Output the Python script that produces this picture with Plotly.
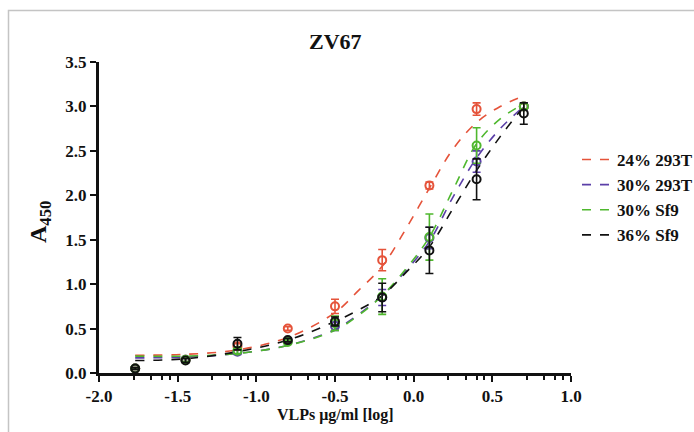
import plotly.graph_objects as go

# ---- data ----
series_names = ["24% 293T", "30% 293T", "30% Sf9", "36% Sf9"]
series_colors = ["#e5533a", "#5b3fa8", "#4fb82e", "#111111"]

x_points = [-1.77, -1.45, -1.12, -0.8, -0.5, -0.2, 0.1, 0.4, 0.7]
red_pts = [0.05, 0.15, 0.30, 0.50, 0.75, 1.27, 2.11, 2.97, 3.00]
red_err = [0.01, 0.02, 0.03, 0.02, 0.08, 0.12, 0.04, 0.07, 0.03]
purple_pts = [0.05, 0.15, 0.24, 0.36, 0.53, 0.85, 1.52, 2.38, 3.00]
purple_err = [0.01, 0.02, 0.03, 0.02, 0.05, 0.09, 0.12, 0.12, 0.04]
green_pts = [0.05, 0.15, 0.25, 0.35, 0.56, 0.86, 1.53, 2.56, 3.00]
green_err = [0.01, 0.02, 0.03, 0.02, 0.08, 0.20, 0.26, 0.20, 0.03]
black_pts = [0.05, 0.14, 0.33, 0.37, 0.58, 0.85, 1.38, 2.18, 2.92]
black_err = [0.01, 0.02, 0.07, 0.02, 0.05, 0.16, 0.26, 0.23, 0.12]

x_curve = [-1.77, -1.45, -1.12, -0.8, -0.5, -0.35, -0.2, -0.05, 0.1, 0.25, 0.4, 0.55, 0.7]
red_curve = [0.20, 0.21, 0.26, 0.40, 0.68, 0.93, 1.20, 1.62, 2.08, 2.52, 2.82, 3.00, 3.12]
purple_curve = [0.17, 0.18, 0.22, 0.31, 0.49, 0.66, 0.87, 1.15, 1.48, 1.98, 2.42, 2.75, 3.00]
green_curve = [0.19, 0.19, 0.22, 0.31, 0.48, 0.65, 0.87, 1.17, 1.53, 2.06, 2.58, 2.86, 3.03]
black_curve = [0.14, 0.16, 0.24, 0.37, 0.58, 0.71, 0.87, 1.13, 1.42, 1.85, 2.28, 2.66, 3.00]

x_tick_vals = [-2.0, -1.5, -1.0, -0.5, 0.0, 0.5, 1.0]
x_tick_text = ["-2.0", "-1.5", "-1.0", "-0.5", "0.0", "0.5", "1.0"]
x_minor_offsets = [0.22, 0.33, 0.40, 0.45]
y_tick_vals = [0.0, 0.5, 1.0, 1.5, 2.0, 2.5, 3.0, 3.5]
y_tick_text = ["0.0", "0.5", "1.0", "1.5", "2.0", "2.5", "3.0", "3.5"]

all_pts = [red_pts, purple_pts, green_pts, black_pts]
all_err = [red_err, purple_err, green_err, black_err]
all_curves = [red_curve, purple_curve, green_curve, black_curve]

FONT = "Liberation Serif"

fig = go.Figure()

for name, color, curve in zip(series_names, series_colors, all_curves):
    fig.add_trace(go.Scatter(
        x=x_curve, y=curve, mode="lines", name=name,
        line=dict(color=color, width=1.6, dash="dash", shape="spline", smoothing=1.0),
        showlegend=True,
    ))

for name, color, pts, err in zip(series_names, series_colors, all_pts, all_err):
    fig.add_trace(go.Scatter(
        x=x_points, y=pts, mode="markers", name=name,
        marker=dict(symbol="circle-open", size=8, color=color, line=dict(width=2, color=color)),
        error_y=dict(type="data", array=err, color=color, thickness=1.6, width=4),
        showlegend=False,
    ))

minor_vals = []
m = -2.0
while m < 1.0 - 1e-9:
    for off in x_minor_offsets:
        minor_vals.append(round(m + off, 3))
    m += 0.5

L, R, T, B = 99, 123, 62, 59
W, H = 694, 432
pw, ph = W - L - R, H - T - B

def px_x(px):
    return (px - L) / pw

def px_y(py):
    return (H - B - py) / ph

fig.update_layout(
    width=W, height=H,
    margin=dict(l=L, r=R, t=T, b=B, pad=0, autoexpand=False),
    paper_bgcolor="white", plot_bgcolor="white",
    font=dict(family=FONT, size=14, color="#111111"),
    showlegend=True,
    legend=dict(
        x=px_x(577), y=px_y(142), xanchor="left", yanchor="top",
        font=dict(family=FONT, size=17, color="#111111", weight="bold"),
        bgcolor="rgba(0,0,0,0)", itemwidth=30, tracegroupgap=0,
    ),
    xaxis=dict(
        range=[-2.0, 1.0], showgrid=False, zeroline=False, automargin=False,
        showline=True, linecolor="#111111", linewidth=3,
        ticks="outside", ticklen=6, tickwidth=2, tickcolor="#111111",
        tickmode="array", tickvals=x_tick_vals, ticktext=x_tick_text,
        tickfont=dict(family=FONT, size=17, color="#111111", weight="bold"),
        minor=dict(tickmode="array", tickvals=minor_vals, ticks="outside",
                   ticklen=4, tickwidth=2, tickcolor="#111111", showgrid=False),
    ),
    yaxis=dict(
        range=[0.0, 3.5], showgrid=False, zeroline=False, automargin=False,
        showline=True, linecolor="#111111", linewidth=3,
        ticks="outside", ticklen=6, tickwidth=2, tickcolor="#111111",
        tickmode="array", tickvals=y_tick_vals, ticktext=y_tick_text,
        tickfont=dict(family=FONT, size=17, color="#111111", weight="bold"),
    ),
    shapes=[dict(
        type="rect", xref="paper", yref="paper",
        x0=px_x(8.5), x1=px_x(720), y0=px_y(460), y1=px_y(10.5),
        line=dict(color="#c4c4c4", width=1.5), fillcolor="rgba(0,0,0,0)", layer="below",
    )],
    annotations=[
        dict(text="<b>ZV67</b>", x=px_x(335), y=px_y(42), xref="paper", yref="paper",
             xanchor="center", yanchor="middle", showarrow=False,
             font=dict(family=FONT, size=22, color="#111111")),
        dict(text="<b>VLPs μg/ml [log]</b>", x=px_x(335), y=px_y(415), xref="paper", yref="paper",
             xanchor="center", yanchor="middle", showarrow=False,
             font=dict(family=FONT, size=16, color="#111111")),
        dict(text="<b>A<sub>450</sub></b>", x=px_x(40), y=px_y(222), xref="paper", yref="paper",
             xanchor="center", yanchor="middle", showarrow=False, textangle=-90,
             font=dict(family=FONT, size=24, color="#111111")),
    ],
)

fig.write_html(
    "out.html",
    config={"displayModeBar": False},
    post_script="document.body.style.margin='0';document.body.style.overflow='hidden';",
)
